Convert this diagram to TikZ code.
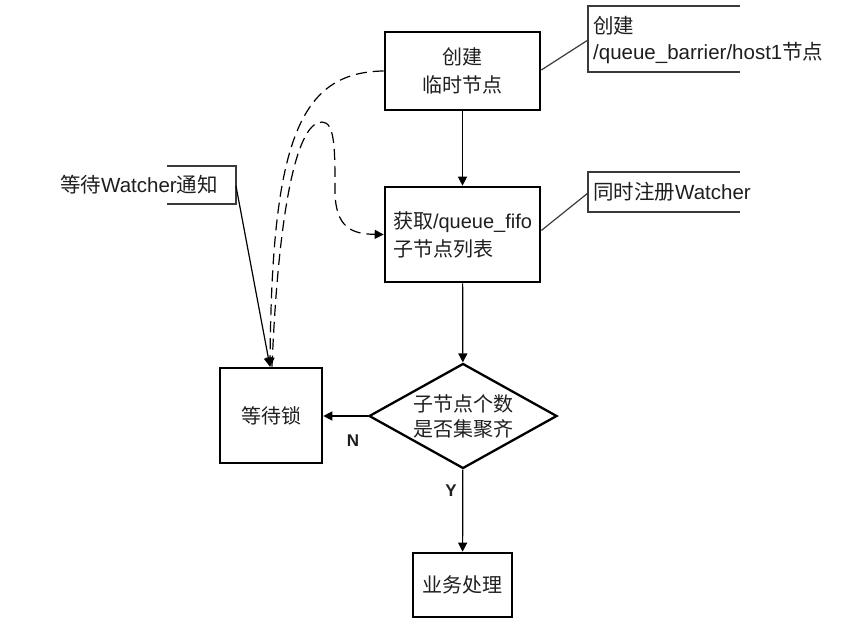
\documentclass[tikz,border=0pt]{standalone}
\usepackage{fontspec}
\setmainfont{Liberation Sans}
\newfontfamily\cjk{Noto Sans CJK SC}
\newcommand{\zh}[1]{{\cjk #1}}
\usetikzlibrary{shapes.geometric,arrows.meta}
\definecolor{ink}{HTML}{1E1E1E}
\definecolor{note}{HTML}{3A3A3A}
\begin{document}
\begin{tikzpicture}[x=1pt,y=-1pt,
  font=\fontsize{20}{28}\selectfont,
  text=ink,
  box/.style={draw=black,line width=2.6pt,inner sep=4pt},
  decision/.style={draw=black,line width=2.3pt,diamond,shape aspect=1.8,inner sep=0pt,
    minimum width=188pt,minimum height=105pt,align=center},
  arr/.style={draw=black,line width=1.2pt,-{Triangle[length=9pt,width=9pt]}},
  dashedarr/.style={arr,dash pattern=on 11pt off 6pt},
  link/.style={draw=note,line width=1.2pt},
  bracket/.style={draw=note,line width=1.4pt},
  lbl/.style={font=\fontsize{17}{20}\selectfont\bfseries,inner sep=0pt},
  notetext/.style={inner sep=0pt,align=left}
]
\useasboundingbox (0,0) rectangle (862,626);

% main flow
\node[box,minimum width=155pt,minimum height=78pt,align=center] (b1) at (462.5,71)
  {\zh{创建}\\\zh{临时节点}};
\node[box,minimum width=155pt,minimum height=95pt,align=left] (b2) at (462.5,234.5)
  {\zh{获取}/queue\_fifo\\\zh{子节点列表}};
\node[decision] (d) at (463,416) {\zh{子节点个数}\\[-3pt]\zh{是否集聚齐}};
\node[box,minimum width=102pt,minimum height=95pt] (w) at (271,415.5) {\zh{等待锁}};
\node[box,minimum width=99pt,minimum height=64pt] (p) at (462.5,585) {\zh{业务处理}};

\draw[arr] (b1) -- (b2);
\draw[arr] (b2) -- (d);
\draw[arr] (d.west) -- (d.west -| w.east);
\draw[arr] (d) -- (p);

\node[lbl] (nlab) at (353,441) {N};
\node[lbl] (ylab) at (451,491) {Y};

% annotation: create node
\coordinate (a1t) at (740,6);
\coordinate (a1b) at (740,72);
\coordinate (a1p) at (588,40);
\draw[bracket] (a1t) -- (588,6) -- (588,72) -- (a1b);
\node[notetext,anchor=west,font=\fontsize{20.5}{26}\selectfont] (a1) at (593,40)
  {\zh{创建}\\/queue\_barrier/host1\zh{节点}};
\draw[link] ([yshift=1pt]b1.east) -- (a1p);

% annotation: register watcher
\coordinate (a2t) at (740,172);
\coordinate (a2b) at (740,212);
\coordinate (a2p) at (588,193);
\draw[bracket] (a2t) -- (588,172) -- (588,212) -- (a2b);
\node[notetext,anchor=west,font=\fontsize{20.5}{26}\selectfont] (a2) at (593,192) {\zh{同时注册}Watcher};
\draw[link] ([yshift=4pt]b2.east) -- (a2p);

% annotation: wait for watcher
\coordinate (a3t) at (167,166);
\coordinate (a3b) at (167,204);
\coordinate (a3p) at (236,186);
\draw[bracket] (a3t) -- (236,166) -- (236,204) -- (a3b);
\node[notetext,font=\fontsize{20.5}{26}\selectfont] (a3) at (139,185) {\zh{等待}Watcher\zh{通知}};
\draw[arr] (a3p) -- ([xshift=-1pt]w.north);

% dashed wait/retry loop
\draw[dashedarr] (b1.west) .. controls (300,72) and (272,140) .. ([xshift=-1pt]w.north);
\draw[dashedarr] ([xshift=1pt]w.north) .. controls (278,220) and (295,122) .. (322,122)
  .. controls (335,122) and (335,150) .. (335,190)
  .. controls (335,228) and (352,234) .. (b2.west);
\end{tikzpicture}
\end{document}
